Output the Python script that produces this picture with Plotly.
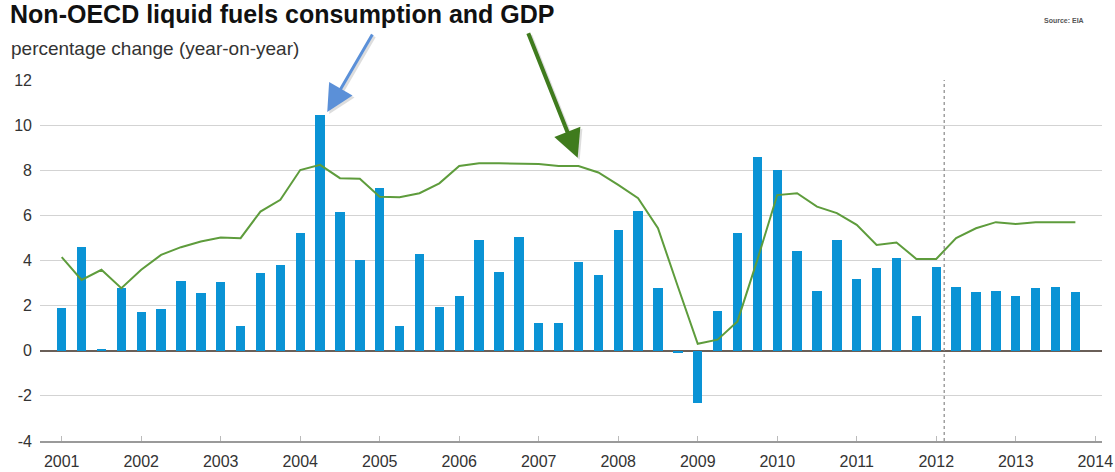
import plotly.graph_objects as go

years = list(range(2001, 2014))
quarters = [y + q * 0.25 for y in years for q in range(4)]

liquid_fuels = [
    1.9, 4.6, 0.05, 2.8,
    1.7, 1.85, 3.1, 2.55,
    3.03, 1.08, 3.44, 3.78,
    5.21, 10.45, 6.13, 4.03,
    7.2, 1.08, 4.28, 1.93,
    2.44, 4.92, 3.51, 5.02,
    1.25, 1.25, 3.93, 3.34,
    5.33, 6.2, 2.77, -0.1,
    -2.3, 1.78, 5.21, 8.6,
    8.01, 4.4, 2.67, 4.92,
    3.19, 3.66, 4.1, 1.52,
    3.73, 2.82, 2.61, 2.67,
    2.44, 2.76, 2.82, 2.61,
]

gdp = [
    4.15, 3.14, 3.59, 2.77,
    3.59, 4.25, 4.59, 4.84,
    5.02, 4.99, 6.17, 6.69,
    8.01, 8.24, 7.65, 7.62,
    6.83, 6.8, 6.98, 7.42,
    8.19, 8.31, 8.31, 8.31,
    8.28, 8.19, 8.19, 7.9,
    7.35, 6.76, 5.43, 2.85,
    0.31, 0.49, 1.3, 4.03,
    6.9, 6.98, 6.39, 6.1,
    5.58, 4.69, 4.8, 4.07,
    4.07, 4.99, 5.43, 5.7,
    5.62, 5.7, 5.7, 5.7,
]

tick_years = list(range(2001, 2015))
y_ticks = list(range(-4, 13, 2))
y_tick_labels = [str(v) for v in y_ticks]
forecast_start = 2012.1

FONT = "Liberation Sans, Arial, sans-serif"

fig = go.Figure()
fig.add_trace(go.Bar(
    x=quarters, y=liquid_fuels, width=0.118,
    marker=dict(color="#0a93d5", line=dict(width=0)),
    showlegend=False,
))
fig.add_trace(go.Scatter(
    x=quarters, y=gdp, mode="lines",
    line=dict(color="#5e9c3c", width=2),
    showlegend=False,
))

fig.add_shape(type="line", xref="x", yref="paper",
              x0=forecast_start, x1=forecast_start, y0=0, y1=1,
              line=dict(color="#888888", width=1.2, dash="dot"))

# arrows (soft shadow + arrow)
def arrow(x, y, ax, ay, color, width, size):
    fig.add_annotation(x=x, y=y, ax=ax, ay=ay, xshift=2, yshift=-2,
                       showarrow=True, arrowhead=2, arrowsize=size,
                       arrowwidth=width, arrowcolor="rgba(160,160,160,0.35)", text="")
    fig.add_annotation(x=x, y=y, ax=ax, ay=ay,
                       showarrow=True, arrowhead=2, arrowsize=size,
                       arrowwidth=width, arrowcolor=color, text="")

arrow(2004.34, 10.58, 46, -79, "#5b90d8", 3, 1.8)
arrow(2007.49, 8.55, -50, -126, "#3f7b1d", 4, 1.4)

fig.add_annotation(text="percentage change (year-on-year)", xref="paper", yref="paper",
                   x=-0.029, y=1.087, xanchor="left", yanchor="middle", showarrow=False,
                   font=dict(family=FONT, size=19, color="#333333"))
fig.add_annotation(text="<b>Source: EIA</b>", xref="paper", yref="paper",
                   x=0.985, y=1.165, xanchor="right", yanchor="middle", showarrow=False,
                   font=dict(family=FONT, size=7, color="#555555"))

fig.update_layout(
    width=1115, height=472,
    margin=dict(l=40, r=13, t=80, b=31, autoexpand=False),
    paper_bgcolor="white", plot_bgcolor="white",
    title=dict(text="<b>Non-OECD liquid fuels consumption and GDP</b>",
               x=0.009, xanchor="left", y=0.969, yanchor="middle",
               font=dict(family=FONT, size=25, color="#111111")),
    bargap=0,
    xaxis=dict(range=[2000.727, 2014.085], tickvals=tick_years,
               ticktext=[str(t) for t in tick_years],
               showgrid=False, zeroline=False, automargin=False,
               showline=True, linecolor="#9a9a9a", linewidth=1.5,
               ticks="inside", ticklen=5, tickcolor="#bbbbbb",
               tickfont=dict(family=FONT, size=16, color="#333333"),
               ticklabelstandoff=5),
    yaxis=dict(range=[-4, 12], tickvals=y_ticks, ticktext=y_tick_labels,
               automargin=False,
               showgrid=True, gridcolor="#d3d3d3", gridwidth=1.3,
               zeroline=True, zerolinecolor="#6a5f58", zerolinewidth=1.8,
               showline=False, ticks="",
               tickfont=dict(family=FONT, size=16, color="#333333"),
               ticklabelstandoff=7),
)

fig.write_html(
    "out.html",
    config={"displayModeBar": False},
    post_script="document.body.style.margin='0';document.body.style.padding='0';"
                "document.documentElement.style.overflow='hidden';",
)
